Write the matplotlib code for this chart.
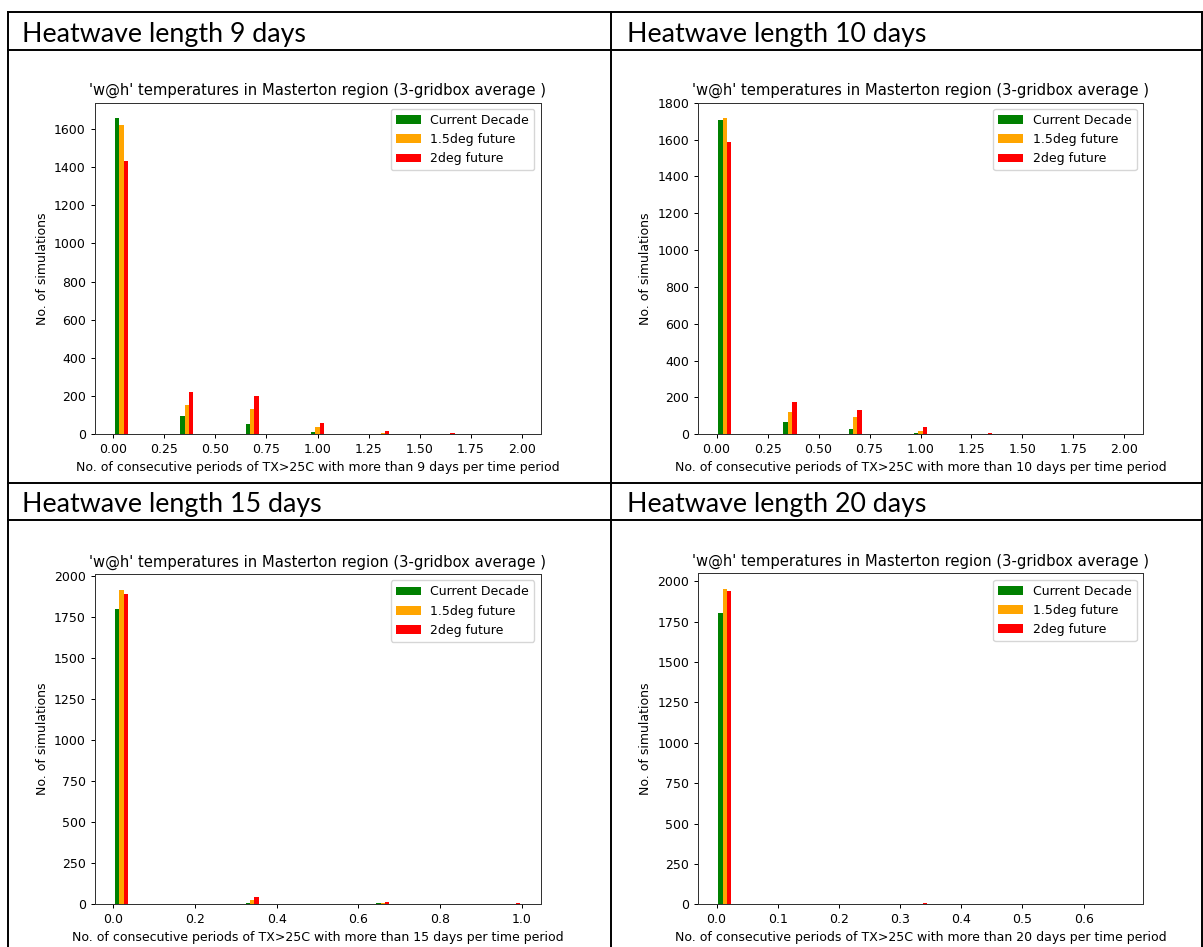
import numpy as np
import matplotlib
matplotlib.use("Agg")
import matplotlib.pyplot as plt
from matplotlib.lines import Line2D
from matplotlib.ticker import MultipleLocator

# ---- data -------------------------------------------------------------
series_labels = ["Current Decade", "1.5deg future", "2deg future"]
series_colors = ["green", "orange", "red"]

heatwave_lengths = [9, 10, 15, 20]

# number of qualifying periods per time period (values occur in thirds)
periods_9 = [0, 1 / 3, 2 / 3, 1, 4 / 3, 5 / 3]
current_9 = [1654, 96, 52, 10, 0, 0]
future15_9 = [1619, 151, 132, 38, 5, 0]
future20_9 = [1431, 221, 198, 61, 19, 6]

periods_10 = [0, 1 / 3, 2 / 3, 1, 4 / 3]
current_10 = [1708, 65, 29, 5, 0]
future15_10 = [1715, 123, 94, 18, 0]
future20_10 = [1585, 178, 132, 38, 9]

periods_15 = [0, 1 / 3, 2 / 3, 1]
current_15 = [1796, 6, 8, 0]
future15_15 = [1915, 26, 6, 0]
future20_15 = [1889, 44, 12, 5]

periods_20 = [0, 1 / 3]
current_20 = [1805, 0]
future15_20 = [1951, 0]
future20_20 = [1940, 6]

# upper end of the histogram range for each heatwave length
hist_upper = [2.0, 2.0, 1.0, 2 / 3]
n_bins = 25
x_tick_step = [0.25, 0.25, 0.2, 0.1]
y_tick_step = [200, 200, 250, 250]

panel_data = [
    (periods_9, current_9, future15_9, future20_9),
    (periods_10, current_10, future15_10, future20_10),
    (periods_15, current_15, future15_15, future20_15),
    (periods_20, current_20, future15_20, future20_20),
]

# ---- styling ------------------------------------------------------------
W, H = 1203, 947
plt.rcParams.update({
    "font.family": "DejaVu Sans",
    "font.size": 9,
    "axes.titlesize": 10.65,
    "axes.labelsize": 9,
    "xtick.labelsize": 9,
    "ytick.labelsize": 9,
    "legend.fontsize": 9,
    "axes.linewidth": 0.72,
    "xtick.major.width": 0.72,
    "ytick.major.width": 0.72,
    "xtick.major.size": 3.15,
    "ytick.major.size": 3.15,
    "xtick.major.pad": 3.1,
    "ytick.major.pad": 3.1,
    "axes.titlepad": 5.4,
    "axes.labelpad": 3.6,
})

fig = plt.figure(figsize=(W / 100, H / 100), dpi=100)
fig.patch.set_facecolor("white")


def px_rect(left, top, right, bottom):
    return [left / W, (H - bottom) / H, (right - left) / W, (bottom - top) / H]


axes_px = [
    (94.6, 102.7, 540.5, 434.3),
    (698.0, 102.7, 1143.0, 434.3),
    (94.6, 574.0, 540.5, 904.3),
    (698.0, 573.3, 1143.0, 904.3),
]

header_pos = [(22, 42), (627, 42), (22, 512), (627, 512)]

for i, (rect, (periods, cur, f15, f20)) in enumerate(zip(axes_px, panel_data)):
    ax = fig.add_axes(px_rect(*rect))
    edges = np.linspace(0, hist_upper[i], n_bins + 1)
    ax.hist([periods, periods, periods], bins=edges,
            weights=[cur, f15, f20], color=series_colors,
            label=series_labels)
    ax.set_title("'w@h' temperatures in Masterton region (3-gridbox average )")
    ax.set_ylabel("No. of simulations")
    ax.set_xlabel("No. of consecutive periods of TX>25C with more than "
                  f"{heatwave_lengths[i]} days per time period")
    ax.xaxis.set_major_locator(MultipleLocator(x_tick_step[i]))
    ax.yaxis.set_major_locator(MultipleLocator(y_tick_step[i]))
    ax.legend(loc="upper right", handlelength=2.0, borderpad=0.4,
              labelspacing=0.5)
    for s in ax.spines.values():
        s.set_color("#333333")

    hx, hy = header_pos[i]
    fig.text(hx / W, (H - hy) / H, f"Heatwave length {heatwave_lengths[i]} days",
             family="Lato", fontsize=19.3, va="baseline", ha="left",
             color="black")

# ---- table rules around the panels ---------------------------------------
def hline(y, x0=7.5, x1=1203):
    fig.add_artist(Line2D([x0 / W, x1 / W], [(H - y) / H, (H - y) / H],
                          transform=fig.transFigure, color="black", lw=1.4))


def vline(x, y0=12, y1=947):
    fig.add_artist(Line2D([x / W, x / W], [(H - y0) / H, (H - y1) / H],
                          transform=fig.transFigure, color="black", lw=1.4))


hline(12)
hline(50)
hline(483)
hline(520)
vline(7.5)
vline(611)
vline(1201.5)

fig.savefig("out.png", dpi=100, facecolor="white")
